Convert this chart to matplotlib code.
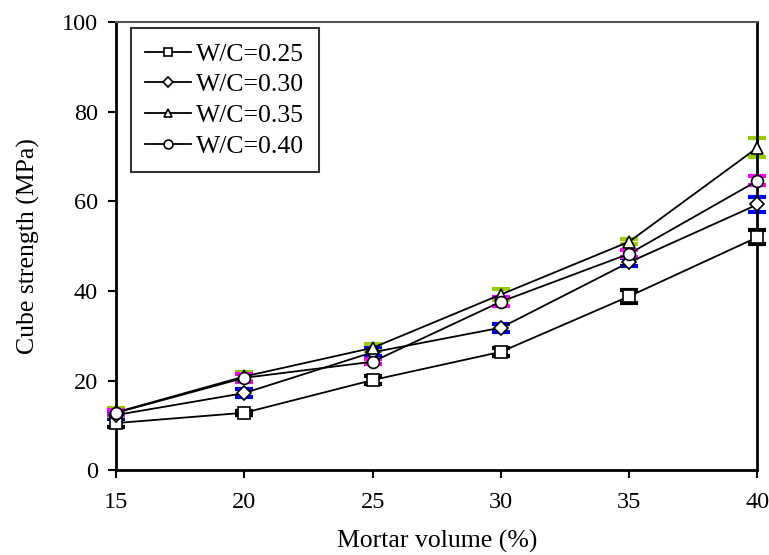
import numpy as np
import matplotlib
matplotlib.use("Agg")
import matplotlib.pyplot as plt

plt.rcParams['font.family'] = ['Liberation Serif', 'DejaVu Serif']

# ---------- data ----------
mortar = [15, 20, 25, 30, 35, 40]
labels = ['W/C=0.25', 'W/C=0.30', 'W/C=0.35', 'W/C=0.40']
strength_025 = [10.5, 12.8, 20.1, 26.4, 38.8, 52.0]
strength_030 = [12.3, 17.2, 26.3, 31.8, 46.4, 59.3]
strength_035 = [12.9, 20.9, 27.3, 39.2, 51.0, 72.0]
strength_040 = [12.8, 20.6, 24.2, 37.6, 48.3, 64.6]
err_025 = [0.8, 0.5, 0.8, 0.9, 1.4, 1.5]
err_030 = [0.6, 0.8, 0.9, 0.9, 0.9, 1.7]
err_035 = [0.9, 0.9, 0.8, 1.2, 0.6, 2.2]
err_040 = [0.6, 0.9, 0.6, 1.0, 0.8, 1.0]

series = [strength_025, strength_030, strength_035, strength_040]
errors = [err_025, err_030, err_035, err_040]
markers = ['s', 'D', '^', 'o']
msizes = [8, 7, 8.5, 8.5]
err_colors = ['black', '#0000ff', '#99cc00', '#ff00ff']

fig = plt.figure(figsize=(7.69, 5.55), dpi=100)
ax = fig.add_axes([0.151, 0.153, 0.834, 0.807])

for y, e, m, ms, ec, lab in zip(series, errors, markers, msizes, err_colors, labels):
    ax.errorbar(mortar, y, yerr=e, fmt='none', ecolor=ec, elinewidth=2,
                capsize=6.5, capthick=3, zorder=2, clip_on=False)
    ax.plot(mortar, y, color='black', lw=1.3, marker=m, ms=ms,
            mfc='white', mec='black', mew=1.2, label=lab, zorder=3, clip_on=False)

ax.set_xlim(15, 40)
ax.set_ylim(0, 100)
ax.set_xticks(mortar)
ax.set_yticks(np.arange(0, 101, 20))
ax.tick_params(axis='both', labelsize=17.5, direction='out', length=6, width=1.5,
               top=False, right=False)
ax.tick_params(axis='x', pad=10)
ax.tick_params(axis='y', pad=7)

for side in ['left', 'bottom', 'right']:
    ax.spines[side].set_linewidth(2)
    ax.spines[side].set_color('black')
ax.spines['top'].set_linewidth(1.5)
ax.spines['top'].set_color('#555555')

ax.set_xlabel('Mortar volume (%)', fontsize=18.5, labelpad=12)
ax.set_ylabel('Cube strength (MPa)', fontsize=18.5, labelpad=16)

leg = ax.legend(loc='upper left', bbox_to_anchor=(0.023, 0.986), fontsize=18.5,
                frameon=True, fancybox=False, edgecolor='black',
                handlelength=1.8, handletextpad=0.2, labelspacing=0.3,
                borderpad=0.55, borderaxespad=0, markerscale=0.75)
leg.get_frame().set_linewidth(1.5)

fig.savefig('out.png', dpi=100)
